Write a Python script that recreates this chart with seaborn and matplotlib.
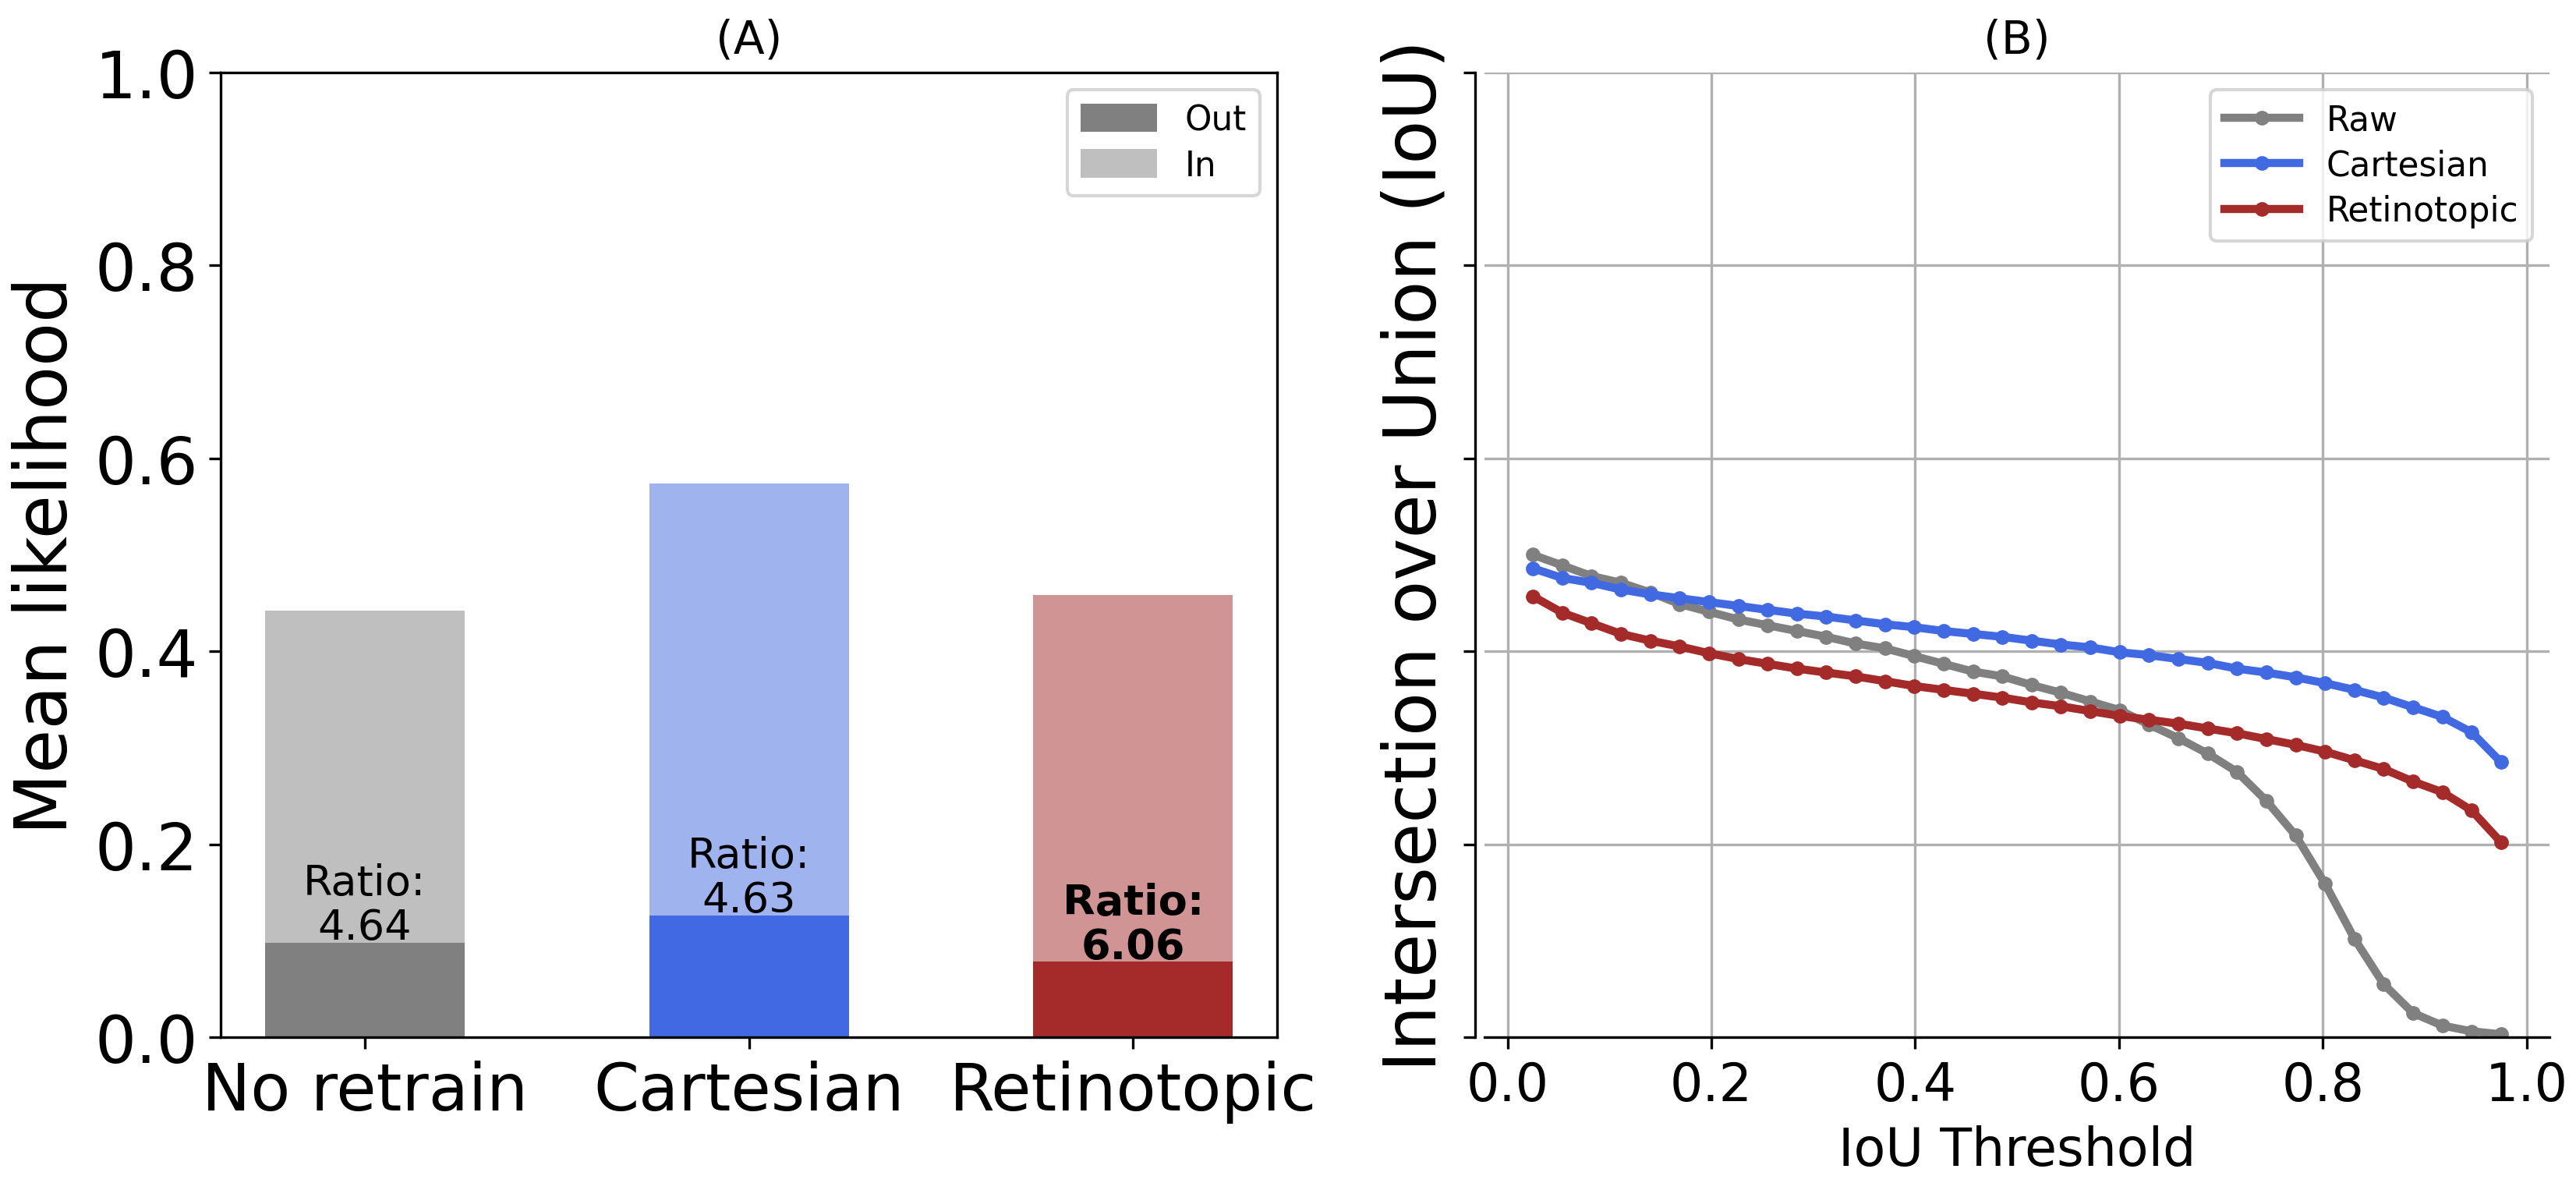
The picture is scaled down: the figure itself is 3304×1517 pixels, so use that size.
"""
Likelihood ratios (A) and IoU vs threshold curves (B)
"""
import pandas as pd
import matplotlib
matplotlib.use('Agg')
import matplotlib.pyplot as plt
from matplotlib.patches import Patch
import seaborn as sns

# ── Panel A data ──────────────────────────────────────────────
models = ['No retrain', 'Cartesian', 'Retinotopic']
in_means = [0.442, 0.574, 0.458]
out_means = [0.098, 0.126, 0.078]
ratios = [4.64, 4.63, 6.06]
bar_colors = ['gray', 'royalblue', 'brown']

# ── Panel B data ──────────────────────────────────────────────
thresholds = [0.0250, 0.0538, 0.0826, 0.1114, 0.1402, 0.1689, 0.1977, 0.2265,
              0.2553, 0.2841, 0.3129, 0.3417, 0.3705, 0.3992, 0.4280, 0.4568,
              0.4856, 0.5144, 0.5432, 0.5720, 0.6008, 0.6295, 0.6583, 0.6871,
              0.7159, 0.7447, 0.7735, 0.8023, 0.8311, 0.8598, 0.8886, 0.9174,
              0.9462, 0.9750]
raw = [0.500, 0.489, 0.478, 0.471, 0.461, 0.449, 0.441, 0.433, 0.427,
       0.421, 0.415, 0.408, 0.403, 0.395, 0.387, 0.379, 0.374, 0.365,
       0.357, 0.348, 0.339, 0.324, 0.310, 0.294, 0.275, 0.245, 0.209,
       0.159, 0.102, 0.055, 0.025, 0.012, 0.006, 0.003]
cartesian = [0.486, 0.476, 0.471, 0.464, 0.459, 0.455, 0.451, 0.447, 0.443,
             0.439, 0.436, 0.432, 0.428, 0.425, 0.421, 0.418, 0.415, 0.411,
             0.407, 0.404, 0.399, 0.396, 0.392, 0.388, 0.382, 0.378, 0.373,
             0.367, 0.360, 0.352, 0.342, 0.332, 0.316, 0.285]
retinotopic = [0.457, 0.440, 0.429, 0.418, 0.411, 0.405, 0.398, 0.392, 0.387,
               0.382, 0.378, 0.374, 0.369, 0.364, 0.360, 0.356, 0.352, 0.347,
               0.343, 0.338, 0.333, 0.329, 0.325, 0.320, 0.315, 0.309, 0.303,
               0.296, 0.287, 0.278, 0.265, 0.254, 0.235, 0.202]
line_names = ['Raw', 'Cartesian', 'Retinotopic']
line_colors = ['gray', 'royalblue', 'brown']

df = pd.DataFrame({
    'thr': thresholds * 3,
    'iou': raw + cartesian + retinotopic,
    'model': [n for n in line_names for _ in thresholds],
})

# ── Figure ────────────────────────────────────────────────────
fig = plt.figure(figsize=(3304 / 300, 1518 / 300), dpi=300)
ax1 = fig.add_axes([0.0857, 0.1232, 0.4101, 0.8149])
ax2 = fig.add_axes([0.5763, 0.1232, 0.4134, 0.8149])

# (A) light "in" bar behind, solid "out" bar in front
sns.barplot(x=models, y=in_means, hue=models, palette=bar_colors, width=0.52,
            saturation=1, alpha=0.5, linewidth=0, legend=False, ax=ax1)
sns.barplot(x=models, y=out_means, hue=models, palette=bar_colors, width=0.52,
            saturation=1, linewidth=0, legend=False, ax=ax1)

best = max(ratios)
for i, (o, r) in enumerate(zip(out_means, ratios)):
    ax1.text(i, o - 0.005, f'Ratio:\n{r:.2f}', ha='center', va='bottom',
             fontsize=13, linespacing=1.12,
             fontweight='bold' if r == best else 'normal')

ax1.set_xlim(-0.375, 2.375)
ax1.set_ylim(0, 1)
ax1.set_yticks([0, 0.2, 0.4, 0.6, 0.8, 1.0])
ax1.set_ylabel('Mean likelihood', fontsize=22)
ax1.set_xlabel('')
ax1.tick_params(labelsize=20)
ax1.set_title('(A)', fontsize=14)
ax1.legend(handles=[Patch(facecolor='gray'), Patch(facecolor='gray', alpha=0.5)],
           labels=['Out', 'In'], loc='upper right', fontsize=10.5,
           handlelength=2.25, handleheight=0.9, labelspacing=0.35)

# (B) IoU curves
sns.lineplot(data=df, x='thr', y='iou', hue='model', hue_order=line_names,
             palette=line_colors, marker='o', markersize=4.5,
             markeredgewidth=0, linewidth=2.5, legend=False, ax=ax2)
ax2.set_ylim(0, 1)
ax2.set_yticks([0, 0.2, 0.4, 0.6, 0.8, 1.0])
ax2.tick_params(labelleft=False)
ax2.tick_params(axis='x', labelsize=16)
ax2.grid(True)
ax2.spines[['top', 'right']].set_visible(False)
ax2.spines['left'].set_position(('outward', 3))
ax2.set_xlabel('IoU Threshold', fontsize=16)
ax2.set_ylabel('Intersection over Union (IoU)', fontsize=22)
ax2.set_title('(B)', fontsize=14)
ax2.legend(ax2.lines[:3], line_names, loc='upper right', fontsize=10.5,
           handlelength=2.2, labelspacing=0.35)

fig.savefig('out.png', dpi=300)
plt.close(fig)
